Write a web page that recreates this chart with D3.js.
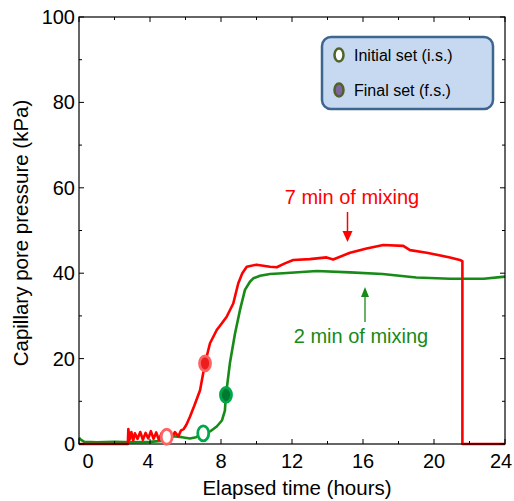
<!DOCTYPE html>
<html><head><meta charset="utf-8">
<script src="https://cdn.jsdelivr.net/npm/d3@7"></script>
<style>body{margin:0;background:#fff}svg{display:block;font-family:"Liberation Sans",Arial,sans-serif}</style>
</head><body>
<script>
const xTicks = [0,4,8,12,16,20,24];
const yTicks = [0,20,40,60,80,100];
const red7min = [[0,0],[2.75,0],[2.78,3.5],[2.85,1.0],[2.95,2.8],[3.05,0.8],[3.15,2.5],[3.3,1.2],[3.45,2.8],[3.6,1.0],[3.75,2.6],[3.9,1.3],[4.05,3.0],[4.2,1.2],[4.35,2.7],[4.5,1.0],[4.65,2.5],[4.8,1.5],[5.0,2.0],[5.2,1.2],[5.4,2.8],[5.6,1.8],[5.75,3.2],[5.9,3.5],[6.05,4.5],[6.25,6.4],[6.5,9.0],[6.82,12.6],[7.1,18.9],[7.38,23.6],[7.76,26.7],[8.05,28.3],[8.32,29.8],[8.69,32.9],[8.97,37.6],[9.2,40.0],[9.45,41.5],[10.0,42.0],[10.76,41.5],[11.14,41.4],[11.6,42.3],[12.07,43.1],[13.0,43.3],[13.95,43.7],[14.32,43.2],[15.27,44.8],[16.2,45.8],[17.14,46.6],[18.27,46.4],[18.65,45.4],[19.59,44.8],[20.9,43.7],[21.46,43.1],[21.6,42.8],[21.6,0],[24,0]];
const green2min = [[0,1.5],[0.1,1.0],[0.3,0.5],[1,0.4],[2,0.5],[3,0.4],[4,0.5],[4.8,0.8],[5.1,1.6],[5.31,1.8],[5.8,1.6],[6.25,1.3],[6.6,1.6],[7.0,2.5],[7.4,3.0],[7.76,4.1],[8.05,5.5],[8.22,7.8],[8.28,11.5],[8.5,18.9],[8.79,25.9],[9.07,31.4],[9.35,36.1],[9.63,38.0],[9.82,38.8],[10.2,39.4],[10.76,39.8],[11.5,40.0],[13.4,40.5],[15.27,40.2],[17.1,39.8],[19.0,39.0],[20.9,38.7],[22.8,38.7],[24,39.2]];
const initialSet = [{t:4.94,v:1.7,c:"red"},{t:7.0,v:2.5,c:"green"}];
const finalSet = [{t:7.1,v:18.9,c:"red"},{t:8.28,v:11.5,c:"green"}];
const legendLabels = ["Initial set (i.s.)","Final set (f.s.)"];

const W=514,H=501, L=79,R=505,T=17,B=444;
const svg=d3.select("body").append("svg").attr("width",W).attr("height",H);
const x=d3.scaleLinear().domain([0,24]).range([L,R]);
const y=d3.scaleLinear().domain([0,100]).range([B,T]);
const RED="#ff0000", GREEN="#178a17";

const line=d3.line().x(d=>x(d[0])).y(d=>y(d[1]));
svg.append("path").datum(green2min).attr("d",line).attr("fill","none").attr("stroke",GREEN).attr("stroke-width",2.6).attr("stroke-linejoin","round");
svg.append("path").datum(red7min).attr("d",line).attr("fill","none").attr("stroke",RED).attr("stroke-width",2.6).attr("stroke-linejoin","round");

svg.append("rect").attr("x",L).attr("y",T).attr("width",R-L).attr("height",B-T).attr("fill","none").attr("stroke","#000").attr("stroke-width",1.2);
const xMinor=d3.range(0,25,2), yMinor=d3.range(0,101,10);
xMinor.forEach(t=>{const len=(t%4===0)?5:3;
  svg.append("line").attr("x1",x(t)).attr("x2",x(t)).attr("y1",B).attr("y2",B-len).attr("stroke","#000");
  svg.append("line").attr("x1",x(t)).attr("x2",x(t)).attr("y1",T).attr("y2",T+len).attr("stroke","#000");});
yMinor.forEach(v=>{const len=(v%20===0)?5:3;
  svg.append("line").attr("x1",L).attr("x2",L+len).attr("y1",y(v)).attr("y2",y(v)).attr("stroke","#000");
  svg.append("line").attr("x1",R).attr("x2",R-len).attr("y1",y(v)).attr("y2",y(v)).attr("stroke","#000");});
svg.selectAll(".xl").data(xTicks).enter().append("text").attr("x",d=>x(d)+(d===0?9:(d===4?-2:(d===24?-4:0)))).attr("y",468)
  .attr("text-anchor","middle").attr("font-size",20).text(d=>d);
svg.selectAll(".yl").data(yTicks).enter().append("text").attr("x",75).attr("y",d=>y(d)+7)
  .attr("text-anchor","end").attr("font-size",20).text(d=>d);
svg.append("text").attr("x",297).attr("y",495).attr("text-anchor","middle").attr("font-size",20.5).text("Elapsed time (hours)");
svg.append("text").attr("transform","translate(28,233) rotate(-90)").attr("text-anchor","middle").attr("font-size",20.5).text("Capillary pore pressure (kPa)");

const col={red:{ring:"#ff6464",fill:"#ee1c1c"},green:{ring:"#00a84a",fill:"#007a30"}};
initialSet.forEach(d=>svg.append("ellipse").attr("cx",x(d.t)).attr("cy",y(d.v)).attr("rx",5.5).attr("ry",7.5)
  .attr("fill","#fff").attr("stroke",col[d.c].ring).attr("stroke-width",2.8));
finalSet.forEach(d=>svg.append("ellipse").attr("cx",x(d.t)).attr("cy",y(d.v)).attr("rx",5.5).attr("ry",7.5)
  .attr("fill",col[d.c].fill).attr("stroke",col[d.c].ring).attr("stroke-width",2.8));

svg.append("text").attr("x",352).attr("y",204).attr("text-anchor","middle").attr("font-size",20).attr("fill",RED).text("7 min of mixing");
svg.append("line").attr("x1",347.5).attr("x2",347.5).attr("y1",212).attr("y2",233).attr("stroke",RED).attr("stroke-width",1.5);
svg.append("path").attr("d","M342.5,231 L352.5,231 L347.5,242 Z").attr("fill",RED);
svg.append("text").attr("x",361).attr("y",343).attr("text-anchor","middle").attr("font-size",20).attr("fill",GREEN).text("2 min of mixing");
svg.append("line").attr("x1",365).attr("x2",365).attr("y1",322).attr("y2",295).attr("stroke",GREEN).attr("stroke-width",1.3);
svg.append("path").attr("d","M361,297 L369,297 L365,287 Z").attr("fill",GREEN);

svg.append("rect").attr("x",322).attr("y",37).attr("width",171).attr("height",72).attr("rx",9)
  .attr("fill","#c6d9f1").attr("stroke","#3c6590").attr("stroke-width",2.5);
const lg=[{fill:"#fff",y:55},{fill:"#8064a2",y:90}];
lg.forEach((d,i)=>{
  svg.append("ellipse").attr("cx",339).attr("cy",d.y).attr("rx",4.5).attr("ry",6.5).attr("fill",d.fill).attr("stroke","#4f6228").attr("stroke-width",2.5);
  svg.append("text").attr("x",354).attr("y",d.y+5.5).attr("font-size",16).text(legendLabels[i]);
});
</script>
</body></html>
